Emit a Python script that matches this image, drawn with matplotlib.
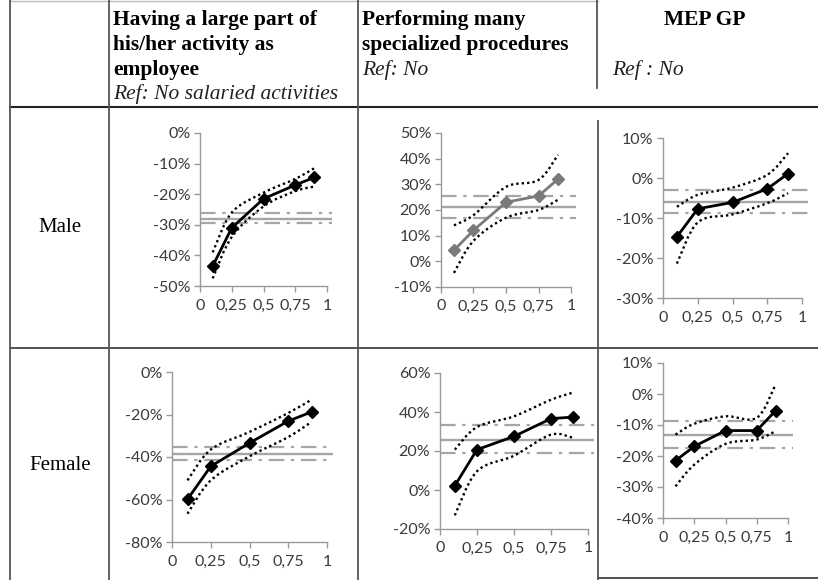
import matplotlib
matplotlib.use("Agg")
import matplotlib.pyplot as plt
from matplotlib.path import Path
from matplotlib.patches import PathPatch
from matplotlib.lines import Line2D

# ---------------- data ----------------
quantiles = [0.1, 0.25, 0.5, 0.75, 0.9]
x_ticks = [0, 0.25, 0.5, 0.75, 1]
x_tick_labels = ["0", "0,25", "0,5", "0,75", "1"]
row_labels = ["Male", "Female"]

# Male – employee
m_emp = [-43.5, -31, -21.5, -17, -14.5]
m_emp_hi = [-39, -26, -19.5, -15, -11.5]
m_emp_lo = [-47.5, -34, -24, -19, -17.5]
m_emp_ref = [-28, -26, -29.5]          # OLS estimate, upper CI, lower CI
m_emp_yticks = [0, -10, -20, -30, -40, -50]

# Male – specialized procedures
m_spe = [4.3, 12.1, 23, 25.5, 32]
m_spe_hi = [14, 18, 29, 31.7, 41.5]
m_spe_lo = [-4.5, 8, 17, 20, 24]
m_spe_ref = [21, 25.5, 16.7]
m_spe_yticks = [50, 40, 30, 20, 10, 0, -10]

# Male – MEP GP
m_mep = [-14.7, -7.7, -6.1, -2.7, 1.1]
m_mep_hi = [-7.2, -4.2, -2.4, 0.8, 6.2]
m_mep_lo = [-21.4, -11.1, -9.1, -6.3, -3.8]
m_mep_ref = [-5.9, -3, -8.8]
m_mep_yticks = [10, 0, -10, -20, -30]

# Female – employee
f_emp = [-59.9, -44.4, -33.4, -23.1, -18.8]
f_emp_hi = [-51, -36.5, -28.2, -19.3, -13]
f_emp_lo = [-66.7, -51, -39.7, -30.6, -23.5]
f_emp_ref = [-38.4, -35.3, -41.6]
f_emp_yticks = [0, -20, -40, -60, -80]

# Female – specialized procedures
f_spe = [2.2, 20.7, 27.5, 36.6, 37.4]
f_spe_hi = [20.7, 32.3, 37.8, 46.3, 50]
f_spe_lo = [-13, 9.6, 17.6, 28.4, 26.7]
f_spe_ref = [25.6, 33.2, 18.8]
f_spe_yticks = [60, 40, 20, 0, -20]

# Female – MEP GP
f_mep = [-21.5, -16.9, -11.8, -11.8, -5.4]
f_mep_hi = [-13.1, -9.6, -7.2, -7.7, 3]
f_mep_lo = [-29.8, -22.8, -16.1, -14.7, -12]
f_mep_ref = [-13.1, -8.8, -17.4]
f_mep_yticks = [10, 0, -10, -20, -30, -40]

W, H = 818, 580
fig = plt.figure(figsize=(W / 100, H / 100), dpi=100)
fig.patch.set_facecolor("white")

TICK_FONT = "Lato"
SERIF = "Liberation Serif"


def frect(left, top, right1, bottom, xmax=1.04):
    w = (right1 - left) * xmax
    return [left / W, 1 - bottom / H, w / W, (bottom - top) / H]


def smooth_path(xs, ys):
    # Catmull-Rom style bezier smoothing (as in spreadsheet "smoothed line")
    pts = list(zip(xs, ys))
    n = len(pts)
    verts = [pts[0]]
    codes = [Path.MOVETO]
    for i in range(n - 1):
        p0 = pts[i - 1] if i > 0 else pts[i]
        p1 = pts[i]
        p2 = pts[i + 1]
        p3 = pts[i + 2] if i + 2 < n else pts[i + 1]
        c1 = (p1[0] + (p2[0] - p0[0]) / 6, p1[1] + (p2[1] - p0[1]) / 6)
        c2 = (p2[0] - (p3[0] - p1[0]) / 6, p2[1] - (p3[1] - p1[1]) / 6)
        verts += [c1, c2, p2]
        codes += [Path.CURVE4] * 3
    return Path(verts, codes)


def panel(rect, main, hi, lo, ref, yticks, color="black"):
    ax = fig.add_axes(rect)
    ax.set_facecolor("none")
    ax.set_xlim(0, 1.04)
    ax.set_ylim(min(yticks), max(yticks))
    ref_c = "#a6a6a6"
    ax.axhline(ref[0], color=ref_c, lw=1.7, zorder=1)
    ax.axhline(ref[1], color=ref_c, lw=1.6, dashes=(7, 3, 1.5, 3), zorder=1)
    ax.axhline(ref[2], color=ref_c, lw=1.6, dashes=(7, 3, 1.5, 3), zorder=1)
    for band in (hi, lo):
        ax.add_patch(PathPatch(smooth_path(quantiles, band), fill=False,
                               edgecolor="black", lw=1.7, linestyle=(0, (1, 1.3)),
                               zorder=2))
    ax.plot(quantiles, main, color=color, lw=2.0, marker="D", ms=6,
            mfc=color, mec=color, zorder=3)
    for s in ("top", "right"):
        ax.spines[s].set_visible(False)
    for s in ("left", "bottom"):
        ax.spines[s].set_color("#9a9a9a")
        ax.spines[s].set_linewidth(1.0)
    ax.spines["bottom"].set_bounds(0, 1)
    ax.set_xticks(x_ticks)
    ax.set_xticklabels(x_tick_labels)
    ax.set_yticks(yticks)
    ax.set_yticklabels([f"{v:.0f}%" for v in yticks])
    ax.tick_params(axis="both", direction="out", length=4, width=1.0,
                   color="#9a9a9a", labelsize=11.5, labelcolor="#3a3a3a", pad=3)
    ax.tick_params(axis="x", pad=5)
    for lab in ax.get_xticklabels() + ax.get_yticklabels():
        lab.set_fontfamily(TICK_FONT)
    return ax


panel(frect(200, 133, 327, 286), m_emp, m_emp_hi, m_emp_lo, m_emp_ref, m_emp_yticks)
panel(frect(441, 133, 571, 287), m_spe, m_spe_hi, m_spe_lo, m_spe_ref, m_spe_yticks,
      color="#7a7a7a")
panel(frect(663, 138, 802, 298), m_mep, m_mep_hi, m_mep_lo, m_mep_ref, m_mep_yticks)
panel(frect(172, 372, 327, 542), f_emp, f_emp_hi, f_emp_lo, f_emp_ref, f_emp_yticks)
panel(frect(440, 373, 588, 529), f_spe, f_spe_hi, f_spe_lo, f_spe_ref, f_spe_yticks)
panel(frect(663, 363, 788, 518), f_mep, f_mep_hi, f_mep_lo, f_mep_ref, f_mep_yticks)


# ---------------- table grid ----------------
def hline(y, x0, x1, color="#333333", lw=1.3):
    fig.add_artist(Line2D([x0 / W, x1 / W], [1 - y / H, 1 - y / H],
                          color=color, lw=lw, transform=fig.transFigure))


def vline(x, y0, y1, color="#555555", lw=1.3):
    fig.add_artist(Line2D([x / W, x / W], [1 - y0 / H, 1 - y1 / H],
                          color=color, lw=lw, transform=fig.transFigure))


hline(1, 10, 598, color="#bbbbbb", lw=1.0)
hline(107, 10, 818, color="#222222", lw=1.5)
hline(348, 10, 818, color="#444444", lw=1.3)
hline(578, 598, 818, color="#444444", lw=1.3)
vline(10, 0, 580)
vline(109, 0, 580)
vline(358, 0, 580)
vline(597, 0, 88)
vline(598, 121, 580)

# ---------------- header texts ----------------
hdr = dict(fontfamily=SERIF, fontsize=15.5, fontweight="bold", color="black",
           va="center", ha="left")
ital = dict(fontfamily=SERIF, fontsize=15.5, style="italic", color="#222222",
            va="center", ha="left")


def T(x, y, s, **kw):
    fig.text(x / W, 1 - y / H, s, **kw)


T(113, 20, "Having a large part of", **hdr)
T(113, 45, "his/her activity as", **hdr)
T(113, 70, "employee", **hdr)
T(113, 94, "Ref: No salaried activities", **ital)
T(362, 20, "Performing many", **hdr)
T(362, 45, "specialized procedures", **hdr)
T(362, 70, "Ref: No", **ital)
T(705, 20, "MEP GP", **{**hdr, "ha": "center"})
T(612, 70, "Ref : No", **ital)

rl = dict(fontfamily=SERIF, fontsize=15, color="black", va="center", ha="center")
T(60, 228, row_labels[0], **rl)
T(60, 466, row_labels[1], **rl)

fig.savefig("out.png", dpi=100, facecolor="white")
